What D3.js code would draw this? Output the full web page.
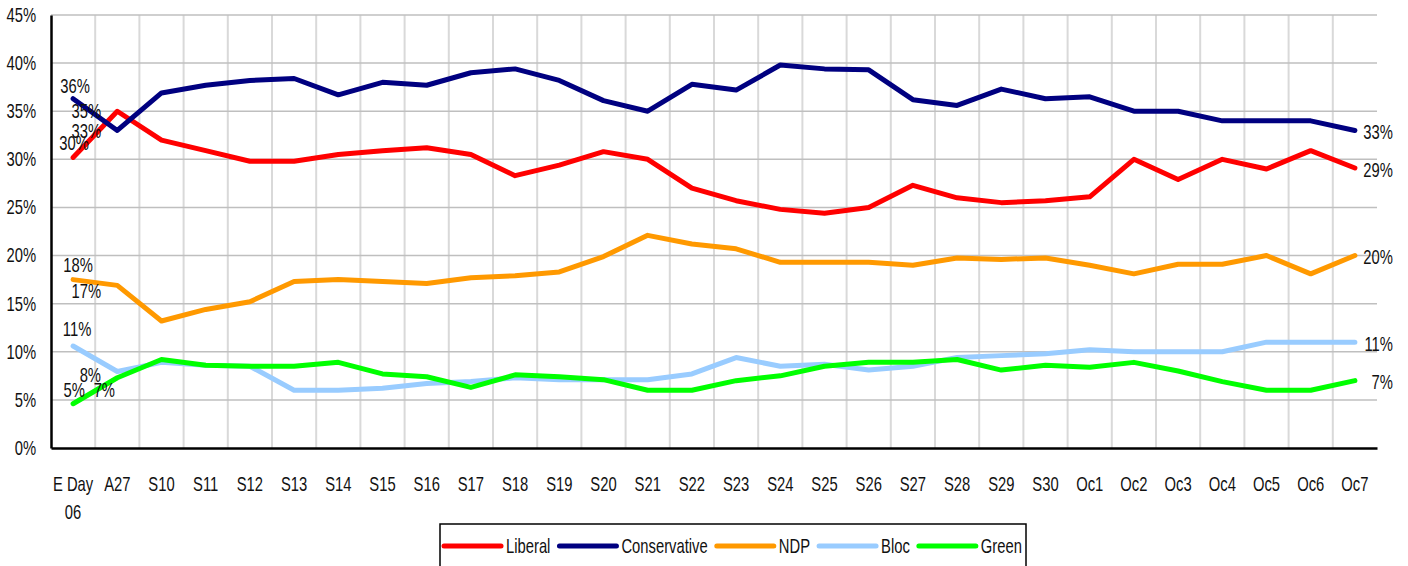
<!DOCTYPE html>
<html>
<head>
<meta charset="utf-8">
<script src="https://cdn.jsdelivr.net/npm/d3@7/dist/d3.min.js"></script>
<style>
  body { margin: 0; background: #fff; }
  svg { display: block; font-family: "Liberation Sans", Arial, sans-serif; }
</style>
</head>
<body>
<svg id="chart" width="1408" height="566"></svg>
<script>
// Poll dates (x categories)
const dates = ["E Day 06", "A27", "S10", "S11", "S12", "S13", "S14", "S15", "S16", "S17",
  "S18", "S19", "S20", "S21", "S22", "S23", "S24", "S25", "S26", "S27",
  "S28", "S29", "S30", "Oc1", "Oc2", "Oc3", "Oc4", "Oc5", "Oc6", "Oc7"];

// Series values (% support)
const liberal = [30.2, 35.0, 32.0, 30.9, 29.8, 29.8, 30.5, 30.9, 31.2, 30.5,
  28.3, 29.4, 30.8, 30.0, 27.0, 25.7, 24.8, 24.4, 25.0, 27.3,
  26.0, 25.5, 25.7, 26.1, 30.0, 27.9, 30.0, 29.0, 30.9, 29.1];
const conservative = [36.3, 33.0, 36.9, 37.7, 38.2, 38.4, 36.7, 38.0, 37.7, 39.0,
  39.4, 38.2, 36.1, 35.0, 37.8, 37.2, 39.8, 39.4, 39.3, 36.2,
  35.6, 37.3, 36.3, 36.5, 35.0, 35.0, 34.0, 34.0, 34.0, 33.0];
const ndp = [17.5, 16.9, 13.2, 14.4, 15.2, 17.3, 17.5, 17.3, 17.1, 17.7,
  17.9, 18.3, 19.9, 22.1, 21.2, 20.7, 19.3, 19.3, 19.3, 19.0,
  19.75, 19.6, 19.75, 19.0, 18.1, 19.1, 19.1, 20.0, 18.1, 20.0];
const bloc = [10.6, 7.95, 8.9, 8.6, 8.5, 6.0, 6.0, 6.2, 6.7, 6.9,
  7.3, 7.1, 7.1, 7.1, 7.7, 9.4, 8.5, 8.7, 8.1, 8.5,
  9.4, 9.6, 9.8, 10.2, 10.0, 10.0, 10.0, 11.0, 11.0, 11.0];
const green = [4.6, 7.3, 9.2, 8.6, 8.5, 8.5, 8.9, 7.7, 7.4, 6.3,
  7.6, 7.4, 7.1, 6.0, 6.0, 7.0, 7.5, 8.5, 8.9, 8.9,
  9.2, 8.1, 8.6, 8.4, 8.9, 8.0, 6.9, 6.0, 6.0, 7.0];

const yTicks = [0, 5, 10, 15, 20, 25, 30, 35, 40, 45];

const series = [
  { name: "Liberal", values: liberal, color: "#ff0000" },
  { name: "Conservative", values: conservative, color: "#000080" },
  { name: "NDP", values: ndp, color: "#ff9900" },
  { name: "Bloc", values: bloc, color: "#99ccff" },
  { name: "Green", values: green, color: "#00ff00" }
];

// label offsets for the first two points (Excel placed them by hand, it seems)
const labelOffsets = {
  "Liberal": [[1, -14], [-31, 0]],
  "Conservative": [[2, -13], [-31, 1]],
  "NDP": [[5, -14], [-31, 6]],
  "Bloc": [[4, -17], [-27, 4]],
  "Green": [[1, -14], [-13, 12]]
};

const svg = d3.select("#chart");
const mLeft = 51, mRight = 1377, mTop = 15, mBottom = 448;
const fontSize = 20, squeeze = 0.74; // no condensed font here, so narrow the glyphs

const x = d3.scaleBand().domain(dates).range([mLeft, mRight]).padding(0);
const cx = d => x(d) + x.bandwidth() / 2;
const y = d3.scaleLinear().domain([0, 45]).range([mBottom, mTop]);

// vertical gridlines
svg.append("g")
  .selectAll("line")
  .data(dates.slice(1))
  .join("line")
    .attr("x1", d => x(d)).attr("x2", d => x(d))
    .attr("y1", mTop).attr("y2", mBottom)
    .attr("stroke", "#d9d9d9")
    .attr("stroke-width", 2);

// horizontal gridlines
svg.append("g")
  .selectAll("line")
  .data(yTicks.slice(1))
  .join("line")
    .attr("x1", mLeft).attr("x2", mRight)
    .attr("y1", d => y(d)).attr("y2", d => y(d))
    .attr("stroke", "#bfbfbf")
    .attr("stroke-width", 1.5);

// y axis
const yAxis = svg.append("g")
  .attr("transform", `translate(${mLeft},0)`)
  .call(d3.axisLeft(y).tickValues(yTicks).tickSize(0).tickPadding(15).tickFormat(d => d + "%"));
yAxis.attr("font-family", null).attr("font-size", null);
yAxis.select(".domain").attr("stroke", "#000").attr("stroke-width", 2.5);
yAxis.selectAll("text").attr("font-size", fontSize).attr("fill", "#111");

// x axis
const xAxis = svg.append("g")
  .attr("transform", `translate(0,${mBottom})`)
  .call(d3.axisBottom(x).tickSize(0).tickPadding(0));
xAxis.attr("font-family", null).attr("font-size", null);
xAxis.select(".domain").attr("stroke", "#000").attr("stroke-width", 2.5);
xAxis.selectAll("text").remove();
xAxis.selectAll(".tick").each(function(d) {
  const parts = d === "E Day 06" ? ["E Day", "06"] : [d];
  const t = d3.select(this).append("text")
    .attr("fill", "#111")
    .attr("font-size", fontSize)
    .attr("text-anchor", "middle");
  parts.forEach((p, i) => {
    t.append("tspan").attr("x", 0).attr("y", 43 + i * 28).text(p);
  });
});

// lines
const line = d3.line()
  .x((d, i) => cx(dates[i]))
  .y(d => y(d));

svg.append("g")
  .selectAll("path")
  .data(series)
  .join("path")
    .attr("d", d => line(d.values))
    .attr("fill", "none")
    .attr("stroke", d => d.color)
    .attr("stroke-width", 5)
    .attr("stroke-linejoin", "round")
    .attr("stroke-linecap", "round");

// data labels
const labels = svg.append("g")
  .attr("font-size", fontSize)
  .attr("fill", "#111");

series.forEach(s => {
  labelOffsets[s.name].forEach((off, i) => {
    labels.append("text")
      .attr("x", cx(dates[i]) + off[0])
      .attr("y", y(s.values[i]) + off[1])
      .attr("text-anchor", "middle")
      .attr("dominant-baseline", "central")
      .text(Math.round(s.values[i]) + "%");
  });
  const last = s.values.length - 1;
  labels.append("text")
    .attr("x", cx(dates[last]) + 38)
    .attr("y", y(s.values[last]) + 2)
    .attr("text-anchor", "end")
    .attr("dominant-baseline", "central")
    .text(Math.round(s.values[last]) + "%");
});

// legend
const boxX = 440, boxW = 586, lineLen = 57, gapText = 5, gapItem = 9;
const legend = svg.append("g");
legend.append("rect")
  .attr("x", boxX).attr("y", 524)
  .attr("width", boxW).attr("height", 60)
  .attr("fill", "#fff")
  .attr("stroke", "#000")
  .attr("stroke-width", 1.5);

const items = series.map(s => {
  const g = legend.append("g");
  g.append("line")
    .attr("x1", 0).attr("x2", lineLen)
    .attr("stroke", s.color)
    .attr("stroke-width", 5)
    .attr("stroke-linecap", "round");
  const t = g.append("text")
    .attr("x", lineLen + gapText)
    .attr("dominant-baseline", "central")
    .attr("font-size", fontSize)
    .attr("fill", "#111")
    .text(s.name);
  return { g, w: lineLen + gapText + t.node().getComputedTextLength() * squeeze };
});
const total = d3.sum(items, d => d.w) + gapItem * (items.length - 1);
let lx = boxX + (boxW - total) / 2;
items.forEach(it => {
  it.g.attr("transform", `translate(${lx},546)`);
  lx += it.w + gapItem;
});

// squeeze every text horizontally around its anchor
svg.selectAll("text").each(function() {
  const b = this.getBBox();
  const anchor = getComputedStyle(this).textAnchor;
  const ax = anchor === "end" ? b.x + b.width : anchor === "middle" ? b.x + b.width / 2 : b.x;
  d3.select(this).attr("transform", `translate(${ax},0) scale(${squeeze},1) translate(${-ax},0)`);
});
</script>
</body>
</html>
